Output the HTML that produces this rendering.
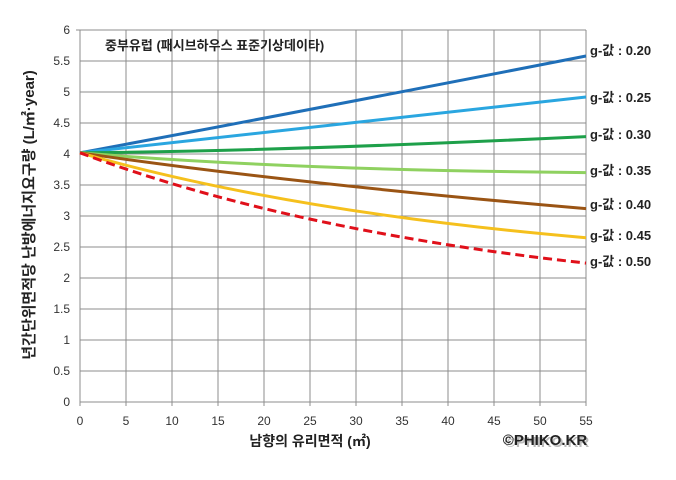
<!DOCTYPE html>
<html><head><meta charset="utf-8"><style>
body{margin:0;background:#fff;}
svg text{font-family:"Liberation Sans","Noto Sans CJK KR",sans-serif;}
</style></head><body>
<svg width="676" height="475" viewBox="0 0 676 475" xmlns="http://www.w3.org/2000/svg">
<rect width="676" height="475" fill="#fff"/>
<g stroke="#8c8c8c" stroke-width="1">
<line x1="80" y1="30" x2="586" y2="30"/><line x1="80" y1="61" x2="586" y2="61"/>
<line x1="80" y1="92" x2="586" y2="92"/><line x1="80" y1="123" x2="586" y2="123"/>
<line x1="80" y1="154" x2="586" y2="154"/><line x1="80" y1="185" x2="586" y2="185"/>
<line x1="80" y1="216" x2="586" y2="216"/><line x1="80" y1="247" x2="586" y2="247"/>
<line x1="80" y1="278" x2="586" y2="278"/><line x1="80" y1="309" x2="586" y2="309"/>
<line x1="80" y1="340" x2="586" y2="340"/><line x1="80" y1="371" x2="586" y2="371"/>
<line x1="80" y1="402" x2="586" y2="402"/>
<line x1="80" y1="30" x2="80" y2="406"/><line x1="126" y1="30" x2="126" y2="406"/>
<line x1="172" y1="30" x2="172" y2="406"/><line x1="218" y1="30" x2="218" y2="406"/>
<line x1="264" y1="30" x2="264" y2="406"/><line x1="310" y1="30" x2="310" y2="406"/>
<line x1="356" y1="30" x2="356" y2="406"/><line x1="402" y1="30" x2="402" y2="406"/>
<line x1="448" y1="30" x2="448" y2="406"/><line x1="494" y1="30" x2="494" y2="406"/>
<line x1="540" y1="30" x2="540" y2="406"/><line x1="586" y1="30" x2="586" y2="406"/>
<line x1="76" y1="30" x2="80" y2="30"/>
</g>
<g font-size="12" fill="#333" text-anchor="end">
<text x="70" y="34">6</text><text x="70" y="65">5.5</text><text x="70" y="96">5</text>
<text x="70" y="127">4.5</text><text x="70" y="158">4</text><text x="70" y="189">3.5</text>
<text x="70" y="220">3</text><text x="70" y="251">2.5</text><text x="70" y="282">2</text>
<text x="70" y="313">1.5</text><text x="70" y="344">1</text><text x="70" y="375">0.5</text>
<text x="70" y="406">0</text>
</g>
<g font-size="12" fill="#333" text-anchor="middle">
<text x="80" y="425">0</text><text x="126" y="425">5</text><text x="172" y="425">10</text>
<text x="218" y="425">15</text><text x="264" y="425">20</text><text x="310" y="425">25</text>
<text x="356" y="425">30</text><text x="402" y="425">35</text><text x="448" y="425">40</text>
<text x="494" y="425">45</text><text x="540" y="425">50</text><text x="586" y="425">55</text>
</g>
<g fill="none" stroke-width="3">
<path d="M80,152.8 Q287,114.4 586,56" stroke="#1f6fb8"/>
<path d="M80,152.8 Q287,129.7 586,97" stroke="#2aa6e0"/>
<path d="M80,152.8 Q287,150.9 586,136.6" stroke="#1ea04a"/>
<path d="M80,152.8 Q287,170.1 586,172.6" stroke="#8fd160"/>
<path d="M80,152.8 Q287,183.1 586,208.6" stroke="#9a5414"/>
<path d="M80,152.8 Q287,212 586,237.7" stroke="#f5c01d"/>
<path d="M80,152.8 Q287,230.2 586,263.1" stroke="#e0101a" stroke-dasharray="9,5"/>
</g>
<text x="105" y="50" font-size="13" font-weight="bold" fill="#222">중부유럽 (패시브하우스 표준기상데이타)</text>
<g font-size="13" font-weight="bold" fill="#222">
<text x="590" y="55">g-값 : 0.20</text><text x="590" y="102">g-값 : 0.25</text>
<text x="590" y="139">g-값 : 0.30</text><text x="590" y="175">g-값 : 0.35</text>
<text x="590" y="209">g-값 : 0.40</text><text x="590" y="240">g-값 : 0.45</text>
<text x="590" y="266">g-값 : 0.50</text>
</g>
<text transform="translate(34,215) rotate(-90)" text-anchor="middle" font-size="15" font-weight="bold" fill="#222">년간단위면적당 난방에너지요구량 (L/㎡·year)</text>
<text x="310" y="446" text-anchor="middle" font-size="14" font-weight="bold" fill="#222">남향의 유리면적 (㎡)</text>
<text x="547" y="447" text-anchor="middle" font-size="15" font-weight="bold" fill="#bbb">©PHIKO.KR</text>
<text x="545" y="445" text-anchor="middle" font-size="15" font-weight="bold" fill="#222">©PHIKO.KR</text>
</svg>
</body></html>
